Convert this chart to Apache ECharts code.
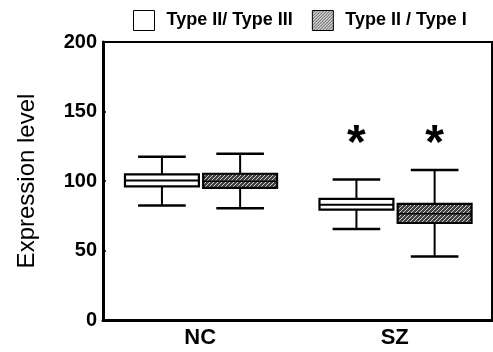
<!DOCTYPE html>
<html>
<head>
<meta charset="utf-8">
<script src="https://cdn.jsdelivr.net/npm/echarts@6/dist/echarts.min.js"></script>
<style>html,body{margin:0;padding:0;background:#fff;}#c{width:493px;height:352px;}</style>
</head>
<body>
<div id="c"></div>
<script>
// ---- data ----
var categories = ['NC', 'SZ'];
var seriesNames = ['Type II/ Type III', 'Type II / Type I'];
// [min, Q1, median, Q3, max] per category
var typeIII_min = [82.3, 65.5];
var typeIII_q1 = [96.2, 79.4];
var typeIII_med = [100.4, 83.0];
var typeIII_q3 = [104.7, 87.1];
var typeIII_max = [117.5, 101.0];
var typeI_min = [80.4, 45.7];
var typeI_q1 = [95.1, 69.8];
var typeI_med = [99.9, 76.5];
var typeI_q3 = [105.2, 83.5];
var typeI_max = [119.6, 108.0];
var typeIII_star = [0, 1];
var typeI_star = [0, 1];
var yTicks = [0, 50, 100, 150, 200];
var STAR_LEVEL = 126;

function makeHatch(bg, fg, period, lw) {
  var c = document.createElement('canvas');
  c.width = period; c.height = period;
  var ctx = c.getContext('2d');
  ctx.fillStyle = bg; ctx.fillRect(0, 0, period, period);
  ctx.strokeStyle = fg; ctx.lineWidth = lw;
  ctx.beginPath();
  for (var k = -1; k <= 1; k++) {
    ctx.moveTo(k * period, period);
    ctx.lineTo(k * period + period, 0);
  }
  ctx.stroke();
  return c;
}
var boxHatch = { image: makeHatch('#424242', '#cccccc', 4, 1), repeat: 'repeat' };
var legendHatch = { image: makeHatch('#ffffff', '#000000', 3, 1), repeat: 'repeat' };

function buildData(mn, q1, md, q3, mx, st) {
  return categories.map(function (c, i) { return [i, mn[i], q1[i], md[i], q3[i], mx[i], st[i]]; });
}

var OFFSETS = [-0.197, 0.205];
function makeRender(sIdx, fill) {
  return function (params, api) {
    var cat = api.value(0);
    var band = api.size([1, 0])[0];
    var cx = api.coord([cat, 0])[0] + OFFSETS[sIdx] * band;
    var y = function (v) { return api.coord([cat, v])[1]; };
    var yMin = y(api.value(1)), yQ1 = y(api.value(2)), yMed = y(api.value(3)),
        yQ3 = y(api.value(4)), yMax = y(api.value(5));
    var bw = band * 0.38, cw = band * 0.245;
    var lineStyle = { stroke: '#000', lineWidth: 2, fill: null };
    var children = [
      { type: 'line', shape: { x1: cx, y1: yMax, x2: cx, y2: yQ3 }, style: lineStyle },
      { type: 'line', shape: { x1: cx, y1: yQ1, x2: cx, y2: yMin }, style: lineStyle },
      { type: 'line', shape: { x1: cx - cw / 2, y1: yMax, x2: cx + cw / 2, y2: yMax }, style: { stroke: '#000', lineWidth: 2.5 } },
      { type: 'line', shape: { x1: cx - cw / 2, y1: yMin, x2: cx + cw / 2, y2: yMin }, style: { stroke: '#000', lineWidth: 2.5 } },
      { type: 'rect', shape: { x: cx - bw / 2, y: yQ3, width: bw, height: yQ1 - yQ3 }, style: { fill: fill, stroke: '#000', lineWidth: 2.2 } },
      { type: 'line', shape: { x1: cx - bw / 2, y1: yMed, x2: cx + bw / 2, y2: yMed }, style: { stroke: '#000', lineWidth: sIdx === 0 ? 2 : 1.5 } }
    ];
    if (api.value(6)) {
      var sp = api.coord([cat, STAR_LEVEL]);
      children.push({ type: 'text', x: cx, y: sp[1],
        style: { text: '*', fill: '#000', font: 'bold 48px "Liberation Sans", Arial, sans-serif', align: 'center', verticalAlign: 'middle' } });
    }
    return { type: 'group', children: children };
  };
}

var chart = echarts.init(document.getElementById('c'), null, { renderer: 'canvas' });
chart.setOption({
  animation: false,
  backgroundColor: '#fff',
  legend: {
    top: 5, left: 128, itemGap: 19, itemWidth: 21, itemHeight: 20,
    textStyle: { fontFamily: '"Liberation Sans", Arial, sans-serif', fontWeight: 'bold', fontSize: 18, color: '#000', padding: [0, 0, 0, 7] },
    data: [
      { name: seriesNames[0], icon: 'rect', itemStyle: { color: '#fff', borderColor: '#000', borderWidth: 1 } },
      { name: seriesNames[1], icon: 'rect', itemStyle: { color: legendHatch, borderColor: '#000', borderWidth: 1 } }
    ]
  },
  grid: { left: 103, right: 1, top: 42, bottom: 32, show: true, borderColor: '#000', borderWidth: 2 },
  xAxis: {
    type: 'category', data: categories,
    axisLine: { show: true, lineStyle: { color: '#000', width: 3 } },
    axisTick: { show: false },
    axisLabel: { color: '#000', fontWeight: 'bold', fontSize: 22, fontFamily: '"Liberation Sans", Arial, sans-serif', margin: 7 },
    splitLine: { show: false }
  },
  yAxis: {
    type: 'value', min: yTicks[0], max: yTicks[yTicks.length - 1], interval: 50,
    name: 'Expression level', nameLocation: 'middle', nameGap: 64,
    nameTextStyle: { color: '#000', fontSize: 24, fontFamily: '"Liberation Sans", Arial, sans-serif' },
    axisLine: { show: true, lineStyle: { color: '#000', width: 3 } },
    axisTick: { show: true, inside: true, length: 3, lineStyle: { color: '#000', width: 1.5 } },
    axisLabel: { color: '#000', fontWeight: 'bold', fontSize: 20, fontFamily: '"Liberation Sans", Arial, sans-serif', margin: 6 },
    splitLine: { show: false }
  },
  series: [
    { name: seriesNames[0], type: 'custom', itemStyle: { color: '#fff' },
      renderItem: makeRender(0, '#fff'),
      encode: { x: 0, y: [1, 2, 3, 4, 5] },
      data: buildData(typeIII_min, typeIII_q1, typeIII_med, typeIII_q3, typeIII_max, typeIII_star) },
    { name: seriesNames[1], type: 'custom', itemStyle: { color: '#555' },
      renderItem: makeRender(1, boxHatch),
      encode: { x: 0, y: [1, 2, 3, 4, 5] },
      data: buildData(typeI_min, typeI_q1, typeI_med, typeI_q3, typeI_max, typeI_star) }
  ]
});
</script>
</body>
</html>
